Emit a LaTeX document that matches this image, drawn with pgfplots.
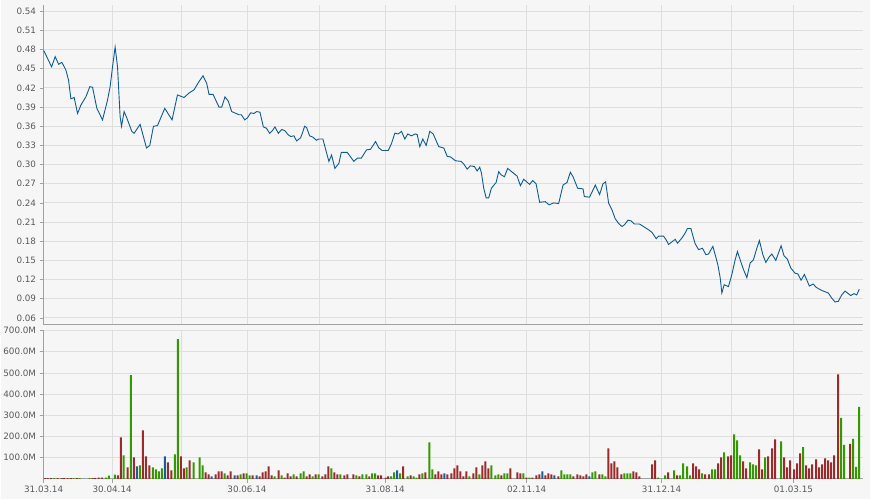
\documentclass[border=0pt]{standalone}
\usepackage{pgfplots}
\usepackage{pgfplotstable}
\pgfplotsset{compat=1.18}
\usepackage{fontspec}
\setmainfont{DejaVu Sans}

\definecolor{bgc}{HTML}{F6F6F6}
\definecolor{gridc}{HTML}{DEDEDE}
\definecolor{axc}{HTML}{A0A0A0}
\definecolor{txtc}{HTML}{5A5A5A}
\definecolor{linec}{HTML}{0E5A9E}
\definecolor{upc}{HTML}{339900}
\definecolor{downc}{HTML}{9C2A2A}
\definecolor{flatc}{HTML}{1A5C9E}

% x = position on the time axis (31.03.14 at 42.7, 01.03.15 at 793.3)
\pgfplotstableread{
x v
42.7 0.479
46.7 0.466
50.7 0.453
54.3 0.469
57.7 0.457
61 0.460
65 0.448
67.7 0.432
70 0.403
73.3 0.405
76.7 0.380
80 0.393
85 0.406
89 0.422
91.7 0.421
96 0.388
101.7 0.370
106.7 0.401
109.3 0.422
111.7 0.453
114.3 0.484
116.7 0.453
119.3 0.375
120.7 0.360
123.3 0.383
126 0.373
131 0.352
133.3 0.349
139.3 0.363
145.7 0.326
149 0.330
152.7 0.360
156.7 0.361
164 0.388
171.3 0.370
176.7 0.409
183.3 0.405
188.3 0.412
193.3 0.417
198.3 0.430
202.3 0.439
206 0.427
208.3 0.410
212.3 0.410
218.3 0.390
221 0.390
224.3 0.406
227.7 0.399
231 0.383
238.3 0.378
240.7 0.378
244 0.370
246.7 0.373
250 0.381
253.3 0.380
256 0.383
259.3 0.382
262.7 0.359
265.7 0.357
269 0.349
271.7 0.353
274.3 0.359
277.7 0.349
281 0.355
284.3 0.353
287.3 0.347
290 0.344
293.3 0.345
296 0.337
300 0.342
301.7 0.349
304 0.360
306 0.358
309 0.345
312.3 0.343
315.7 0.338
318.3 0.340
322.3 0.340
325.7 0.320
328.3 0.305
331 0.315
334.3 0.294
338.3 0.302
340.7 0.319
346.7 0.319
353.3 0.305
356.7 0.310
360.7 0.310
366 0.323
370 0.324
375 0.336
378.3 0.326
381.7 0.322
387.7 0.322
391 0.333
394.3 0.349
397.7 0.348
401 0.352
404.3 0.340
407.3 0.348
410.7 0.345
415 0.348
416.7 0.347
419.3 0.328
422.3 0.340
425.7 0.330
429.3 0.352
432.7 0.348
438.3 0.328
443.3 0.326
446.7 0.313
450 0.312
455 0.306
460.7 0.305
463.3 0.301
466.7 0.293
470 0.298
474 0.297
476.7 0.290
479.3 0.296
481 0.287
483.3 0.263
485.7 0.248
488.3 0.248
491 0.263
495.7 0.272
498.3 0.289
500.7 0.284
504 0.281
507.3 0.294
512.7 0.287
516.7 0.282
520 0.267
523.3 0.277
529.3 0.269
532.3 0.275
535.7 0.270
539.3 0.241
545 0.242
548.7 0.237
553.3 0.240
558.3 0.239
562.7 0.268
566.7 0.272
570 0.288
572.7 0.281
577.3 0.263
582.7 0.262
584 0.250
589.3 0.249
595 0.268
599.3 0.253
602.7 0.270
605.3 0.273
608.3 0.240
611.7 0.229
615 0.215
618.3 0.208
621.7 0.203
624.3 0.206
627.7 0.213
630.7 0.212
634 0.207
639.3 0.207
643.3 0.203
648.3 0.198
651.7 0.194
656 0.184
658.3 0.188
663.3 0.188
666 0.182
668.3 0.175
675 0.183
677.3 0.177
681.7 0.185
685 0.193
687.3 0.200
690.7 0.200
693.3 0.185
695 0.176
698.3 0.167
702.3 0.169
705.7 0.159
708.3 0.160
712.7 0.172
715 0.159
717.7 0.143
720 0.123
721.7 0.099
724 0.112
728.3 0.109
731.7 0.128
735 0.151
737.3 0.164
740 0.151
743.3 0.136
746.7 0.123
750 0.146
753.3 0.151
756.7 0.169
759.3 0.181
762.7 0.159
765.7 0.147
769.3 0.156
771.7 0.160
775.7 0.150
781 0.173
784 0.157
787.3 0.152
790.7 0.138
795 0.130
797.7 0.129
801 0.119
804.3 0.128
809.3 0.110
813.3 0.113
816 0.108
821.7 0.103
828.3 0.099
831.7 0.091
835 0.085
838.3 0.086
841.7 0.096
845 0.102
848.3 0.098
850.7 0.095
854 0.098
856.7 0.096
859.3 0.105
}\price

% volume in millions, by colour of the day
\pgfplotstableread{
x m
44 3
46.7 3
50 3
56.7 3
60.7 3
63.3 3
66.7 3
70 3
76 3
91.7 3
94.3 3
97.7 5
101 5
117 16
120 196
126.7 54
133 101
142 229
145 106
148.7 63
167 77
170.7 40
180 106
183 49
189 87
205 30
208 21
215 21
218 35
221 35
227 16
230 35
237 16
243 25
252 16
259 11
262 30
265 35
268 58
271 16
278 40
284 6
287 25
290 11
296 11
306 11
309 21
315 21
321.7 11
324.7 21
327.7 58
333.7 30
336.7 21
343.7 16
346.7 21
352.7 21
358.7 11
368.7 11
377.7 16
380.7 16
385 6
387.7 11
402.7 58
410 16
419 21
425 30
435 21
438 35
441 21
447 21
451 25
454 49
457 63
460 35
463 11
466 35
473 25
476 54
482 63
485 82
488 49
501 16
510 49
517 30
520 25
526 6
532 6
536 16
539 21
545 16
548 25
551 21
558 11
573 11
577 21
580 16
583 11
586 21
599 21
608 144
611 73
614 82
617 54
621 21
633 35
636 30
639 11
652 68
655 87
668 30
677 16
693 73
696 58
699 44
705 21
709 21
718 73
721 101
728 106
731 111
743 82
746 49
759 139
762 44
768 106
772 144
775 186
784 101
787 54
790 87
794 44
797 73
800 120
806 63
809 49
812 68
816 92
819 54
822 68
825 96
828 87
831 77
834 111
838 493
850 165
}\voldown

\pgfplotstableread{
x m
53.3 3
72.7 3
78.7 3
88.7 3
105 5
108 15
114 20
122.7 110
130 490
139 63
152 54
155 44
158 35
161 49
174 115
177 660
186 54
193 77
199 101
202 63
224 25
240 21
246 25
249 16
274 11
281 16
293 21
300 25
303 35
312 11
318 21
330.7 49
339.7 21
355.7 16
361.7 21
365.7 21
371.7 25
374.7 25
390.7 11
393.7 30
399.7 25
407 11
413 11
416 6
422 25
429 172
432 44
469 11
479 21
491 63
495 16
498 21
504 25
507 25
523 25
529 6
561 40
564 21
567 21
570 21
592 30
595 35
602 21
605 11
624 25
627 25
630 25
658 6
665 16
674 40
680 16
683 73
687 58
690 16
702 25
712 44
715 44
724 125
734 210
737 182
740 111
750 77
753 68
756 63
765 101
781 177
803 149
841 288
844 160
853 188
856 56
859 340
}\volup

\pgfplotstableread{
x m
136 58
164 106
211 11
234 16
256 16
396.7 40
444 25
542 35
554 16
589 11
}\volflat

\pgfplotsset{
  panel/.style={
    scale only axis,
    anchor=south west,
    width=820.3pt,
    xmin=42.7, xmax=863,
    axis lines*=left,
    axis line style={draw=axc, line width=1pt, -},
    grid=major,
    grid style={draw=gridc, line width=0.9pt},
    minor grid style={draw=gridc, line width=0.9pt},
    xminorgrids=true,
    tick align=outside,
    major tick length=4pt,
    minor tick length=0pt,
    tick style={draw=axc, line width=0.8pt},
    ticklabel style={font=\fontsize{8.8}{10}\selectfont, text=txtc},
    /pgf/number format/assume math mode=true,
    xtick={42.7,111.3,246.3,384.7,526.3,661.3,793.3},
    minor xtick={180.3,318.7,454.7,589.3,731.3},
  },
}

\begin{document}
\begin{tikzpicture}
\fill[bgc] (0pt,0pt) rectangle (870pt,500pt);

\begin{axis}[panel,
  at={(42.7pt,175pt)},
  height=320pt,
  ymin=0.0495, ymax=0.5498,
  ytick={0.06,0.09,0.12,0.15,0.18,0.21,0.24,0.27,0.30,0.33,0.36,0.39,0.42,0.45,0.48,0.51,0.54},
  yticklabel style={/pgf/number format/.cd, fixed, fixed zerofill, precision=2},
  xticklabels={},
  xtick style={draw=none},
]
\addplot[linec, line width=0.9pt] table[x=x, y=v] {\price};
\end{axis}

\begin{axis}[panel,
  at={(42.7pt,20.7pt)},
  height=148.3pt,
  ymin=0, ymax=700,
  ytick={100,200,300,400,500,600,700},
  yticklabel={\pgfmathprintnumber[fixed, fixed zerofill, precision=1]{\tick}M},
  xticklabels={31.03.14,30.04.14,30.06.14,31.08.14,02.11.14,31.12.14,01.03.15},
]
\addplot[ybar, bar width=2, bar shift=0pt, draw=none, fill=downc] table[x=x, y=m] {\voldown};
\addplot[ybar, bar width=2, bar shift=0pt, draw=none, fill=upc] table[x=x, y=m] {\volup};
\addplot[ybar, bar width=2, bar shift=0pt, draw=none, fill=flatc] table[x=x, y=m] {\volflat};
\end{axis}
\end{tikzpicture}
\end{document}
